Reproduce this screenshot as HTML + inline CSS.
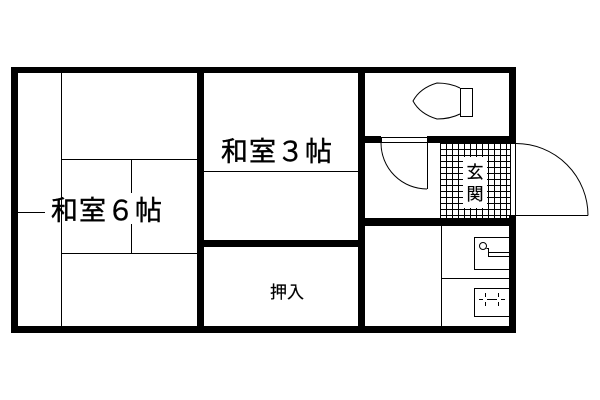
<!DOCTYPE html>
<html><head><meta charset="utf-8"><style>html,body{margin:0;padding:0;background:#fff}svg{display:block}</style></head>
<body>
<svg width="600" height="400" viewBox="0 0 600 400" xmlns="http://www.w3.org/2000/svg">
<defs>
<pattern id="tile" x="440" y="143" width="6" height="6" patternUnits="userSpaceOnUse">
<path d="M0 0.5H6M0.5 0V6" stroke="#000" stroke-width="1"/>
</pattern>
</defs>
<rect width="600" height="400" fill="#fff"/>
<rect x="440" y="143" width="70" height="75" fill="url(#tile)"/>
<rect x="463" y="157" width="24" height="51" fill="#fff"/>
<g stroke="#000" stroke-width="1" fill="none">
<line x1="61.5" y1="73" x2="61.5" y2="326"/>
<line x1="61" y1="159.5" x2="197" y2="159.5"/>
<line x1="61" y1="253.5" x2="197" y2="253.5"/>
<line x1="131.5" y1="159" x2="131.5" y2="193"/>
<line x1="131.5" y1="224" x2="131.5" y2="253"/>
<line x1="17" y1="212.5" x2="45" y2="212.5"/>
<line x1="204" y1="171.5" x2="358" y2="171.5"/>
<line x1="441.5" y1="226" x2="441.5" y2="326"/>
<line x1="441" y1="278.5" x2="509" y2="278.5"/>
<rect x="474.5" y="237.5" width="35" height="32"/>
<circle cx="483" cy="246" r="3.5"/>
<path d="M486.5 248.5H488.5V256.5H509M488.5 252.5H509"/>
<rect x="474.5" y="288.5" width="35" height="28"/>
<path d="M479 299.5H483M487 299.5H497M501 299.5H505M485.5 293V297M485.5 302V306M498.5 293V297M498.5 302V306"/>
<path d="M460 88 Q450 83 437 83 Q420 88 413 101 Q420 114 437 119 Q450 119 460 114"/>
<rect x="460.5" y="88.5" width="12" height="28"/>
<rect x="381.5" y="137.5" width="46" height="5" fill="#fff"/>
<line x1="427.5" y1="143" x2="427.5" y2="189"/>
<path d="M381 143 A46 46 0 0 0 427 189"/>
<rect x="510.5" y="143.5" width="5" height="72" fill="#fff"/>
<line x1="516" y1="215.5" x2="588" y2="215.5"/>
<path d="M516 143.5 A72 72 0 0 1 588 215.5"/>
</g>
<g fill="#000">
<rect x="11" y="67" width="505" height="6"/>
<rect x="11" y="326" width="505" height="7"/>
<rect x="11" y="67" width="7" height="266"/>
<rect x="509" y="67" width="7" height="76"/>
<rect x="509" y="215" width="7" height="118"/>
<rect x="197" y="67" width="7" height="266"/>
<rect x="358" y="67" width="7" height="266"/>
<rect x="204" y="240" width="154" height="7"/>
<rect x="365" y="136" width="16" height="7"/>
<rect x="427" y="136" width="89" height="7"/>
<rect x="365" y="218" width="151" height="8"/>
</g>
<g font-family="'Liberation Sans','Noto Sans CJK JP',sans-serif" fill="#000" text-anchor="middle" stroke="#000" stroke-width="0.4">
<text x="107" y="220" font-size="27" letter-spacing="1">和室６帖</text>
<text x="277" y="161" font-size="27" letter-spacing="1">和室３帖</text>
<text x="287" y="298" font-size="17" stroke-width="0.2">押入</text>
<text x="475" y="178" font-size="17" stroke-width="0.2">玄</text>
<text x="475" y="200" font-size="17" stroke-width="0.2">関</text>
</g>
</svg>
</body></html>
